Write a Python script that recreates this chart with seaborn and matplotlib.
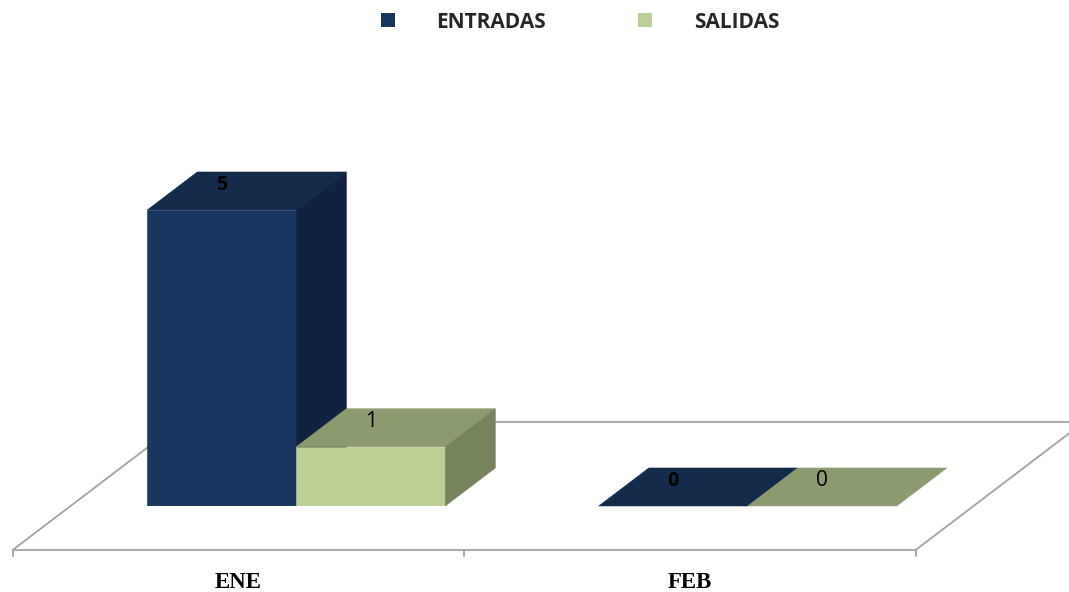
import matplotlib.pyplot as plt
import pandas as pd
import seaborn as sns
from matplotlib.patches import Polygon

# chart values
months = ["ENE", "FEB"]
series = ["ENTRADAS", "SALIDAS"]
entradas = [5, 0]
salidas = [1, 0]

front_colors = ["#17375E", "#BBCF96"]
top_colors = ["#132B4B", "#8C9A70"]
side_colors = ["#10233E", "#76845C"]
floor_color = "#A3A3A3"

df = pd.DataFrame({
    "mes": months * 2,
    "serie": [series[0]] * len(months) + [series[1]] * len(months),
    "valor": entradas + salidas,
})

sns.set_theme(style="white")
plt.rcParams["font.family"] = ["Open Sans", "DejaVu Sans"]

fig = plt.figure(figsize=(10.69, 5.92), dpi=100)
ax = fig.add_axes([0.066, 0.1453, 0.8447, 0.5])
sns.barplot(data=df, x="mes", y="valor", hue="serie", palette=front_colors,
            width=0.66, gap=0, linewidth=0, saturation=1, ax=ax)
ax.set_xlim(-0.5, 1.5)
ax.set_ylim(0, 5)
ax.set_axis_off()

# pixel -> data scale, used for the fake 3d depth
p0 = ax.transData.transform((0, 0))
p1 = ax.transData.transform((1, 1))
px_x, px_y = p1[0] - p0[0], p1[1] - p0[1]
DX, DY = 50, 38           # bar depth in pixels
slope = DX / DY
ddx, ddy = DX / px_x, DY / px_y

# floor
fx, fy = -44 * slope / px_x, -44 / px_y
bx, by = 84 * slope / px_x, 84 / px_y
lo, hi = ax.get_xlim()
floor = Polygon([(lo + fx, fy), (hi + fx, fy), (hi + bx, by), (lo + bx, by)],
                closed=True, facecolor="white", edgecolor=floor_color,
                linewidth=1.3, zorder=1, clip_on=False)
ax.add_patch(floor)
for b in [lo, 0.5, hi]:
    ax.plot([b + fx, b + fx], [fy, fy - 6 / px_y], color=floor_color,
            linewidth=1.3, clip_on=False, zorder=1)

for i, m in enumerate(months):
    ax.annotate(m, (i + fx, fy), xytext=(0, -33), textcoords="offset pixels",
                ha="center", va="center", fontsize=16.5, fontweight="bold",
                family=["Liberation Serif", "DejaVu Serif"], color="black",
                annotation_clip=False)

# 3d faces and value labels
for k, cont in enumerate(ax.containers):
    for bar in cont:
        x0, w, h = bar.get_x(), bar.get_width(), bar.get_height()
        z = 3 + x0 * 2
        bar.set_zorder(z)
        bar.set_edgecolor(front_colors[k])
        bar.set_linewidth(0.4)
        top = [(x0, h), (x0 + w, h), (x0 + w + ddx, h + ddy), (x0 + ddx, h + ddy)]
        ax.add_patch(Polygon(top, closed=True, facecolor=top_colors[k],
                             edgecolor=top_colors[k], linewidth=0.4,
                             zorder=z, clip_on=False))
        if h > 0:
            side = [(x0 + w, 0), (x0 + w + ddx, ddy), (x0 + w + ddx, h + ddy), (x0 + w, h)]
            ax.add_patch(Polygon(side, closed=True, facecolor=side_colors[k],
                                 edgecolor=side_colors[k], linewidth=0.4,
                                 zorder=z, clip_on=False))
        ax.annotate(f"{h:.0f}", (x0 + w / 2, h), xytext=(0, 25),
                    textcoords="offset pixels", ha="center", va="center",
                    fontsize=14 if k == 0 else 15,
                    fontweight="bold" if k == 0 else "normal",
                    color="black", zorder=20, annotation_clip=False)

handles, labels = ax.get_legend_handles_labels()
if ax.get_legend() is not None:
    ax.get_legend().remove()
fig.legend(handles, labels, loc="center left",
           bbox_to_anchor=(381 / 1069, 1 - 22 / 592), ncol=2, frameon=False,
           handlelength=0.67, handleheight=0.67, handletextpad=2.0,
           columnspacing=4.4, borderpad=0, borderaxespad=0,
           prop={"family": ["Open Sans", "DejaVu Sans"], "weight": "bold", "size": 15})

fig.savefig("out.png", dpi=100)
